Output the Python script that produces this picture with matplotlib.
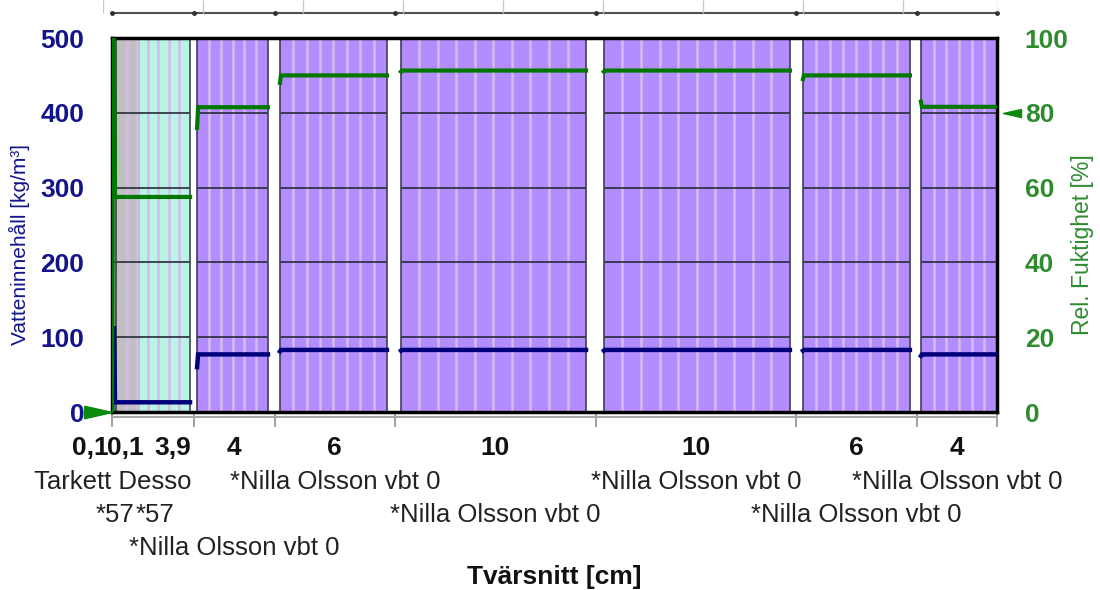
import numpy as np
import matplotlib
matplotlib.use("Agg")
import matplotlib.pyplot as plt
from matplotlib.path import Path

plt.rcParams['font.family'] = ['Liberation Sans', 'DejaVu Sans']

# layers of the cross section (cm)
thickness = [0.1, 0.1, 3.9, 4, 6, 10, 10, 6, 4]
thick_labels = ["0,1", "0,1", "3,9", "4", "6", "10", "10", "6", "4"]
layer_names = ["Tarkett Desso", "*57", "*57"] + ["*Nilla Olsson vbt 0"] * 6
name_rows = [0, 1, 1, 2, 0, 1, 0, 1, 0]

# water content [kg/m3]: value at left edge of layer and plateau value
water = [112, 13, 13, 77, 83, 83, 83, 83, 77]
water_edge = [0, 112, 13, 60, 81, 82, 82, 82, 75]
# relative humidity [%]
rh = [100, 57.5, 57.5, 81.5, 90, 91.3, 91.3, 90, 81.6]
rh_edge = [0, 100, 57.5, 76, 88, 91, 91, 89, 83]
bc_rh = [0, 80]   # boundary conditions left / right

# white joints between layers (boundary index, left/right edge in cm)
gap_at = [3, 4, 5, 6, 7, 8]
gap_lo = [3.89, 7.77, 13.70, 23.62, 33.78, 39.76]
gap_hi = [4.24, 8.37, 14.40, 24.51, 34.43, 40.31]

layer_colors = ['#1f7a1f', '#c0c0c0', '#b8f3e3'] + ['#b38cff'] * 6
mesh_count = [0, 0, 6, 5, 7, 9, 9, 7, 5]
# label x positions of the three thin layers were pushed apart to fit
thin_label_x = [-1.1, 0.65, 3.05]

navy = '#14148a'
green = '#2e8b2e'

total = sum(thickness)
bounds = np.concatenate([[0], np.cumsum(thickness)])
centers = (bounds[:-1] + bounds[1:]) / 2
lo = bounds[:-1].copy()
hi = bounds[1:].copy()
for b, g0, g1 in zip(gap_at, gap_lo, gap_hi):
    hi[b - 1] = g0
    lo[b] = g1

fig = plt.figure(figsize=(11, 5.9), dpi=100)
ax = fig.add_axes([112 / 1100, 178 / 590, 885 / 1100, 374 / 590])
ax.set_xlim(0, total)
ax.set_ylim(0, 500)

for i in range(len(thickness)):
    ax.axvspan(lo[i], hi[i], color=layer_colors[i], lw=0, zorder=0)
    if i == 2:
        ax.axvspan(lo[i], 1.4, color='#c0c0c0', lw=0, zorder=0)
    if mesh_count[i]:
        xs = np.linspace(lo[i], hi[i], mesh_count[i] + 2)[1:-1]
        ax.vlines(xs, 0, 500, color='#d6bbea', lw=1.8, zorder=1)
    ax.hlines([100, 200, 300, 400], lo[i], hi[i], color='#2a2a3a', lw=1.2, zorder=2)
ax.vlines(np.r_[lo[2:], hi[2:]], 0, 500, color='#404050', lw=1.2, zorder=2)


def profile(plateau, edge):
    xs, ys = [], []
    for i in range(len(thickness)):
        xs += [lo[i], lo[i] + 0.05, hi[i]]
        ys += [edge[i], plateau[i], plateau[i]]
        if i + 1 in gap_at:
            xs.append(np.nan)
            ys.append(np.nan)
    return xs, ys


wx, wy = profile(water, water_edge)
ax.plot(wx, wy, color='#00007a', lw=3.2, zorder=4, solid_joinstyle='miter')

for s in ax.spines.values():
    s.set_linewidth(2.5)
    s.set_color('black')

ax.set_yticks([0, 100, 200, 300, 400, 500])
ax.tick_params(axis='y', length=0, pad=20, labelsize=19, labelcolor=navy)
for t in ax.get_yticklabels():
    t.set_fontweight('bold')

# bottom ruler with layer boundary ticks
ax.set_xticks(np.r_[bounds[0], bounds[3:]])
ax.set_xticklabels([])
ax.tick_params(axis='x', direction='out', length=11, width=1.2, color='#909090')
ax.plot([0, total], [-0.013, -0.013], color='#a8a8a8', lw=1.5,
        transform=ax.get_xaxis_transform(), clip_on=False)

label_x = list(thin_label_x) + list(centers[3:])
for x, lab in zip(label_x, thick_labels):
    ax.text(x, -0.096, lab, transform=ax.get_xaxis_transform(), ha='center',
            va='center', fontsize=19, fontweight='bold', color='#111111')
for x, name, row in zip(centers, layer_names, name_rows):
    ax.text(x, -0.187 - 0.088 * row, name, transform=ax.get_xaxis_transform(),
            ha='center', va='center', fontsize=18.5, color='#222222')
ax.text(0.5, -0.441, "Tvärsnitt [cm]", transform=ax.transAxes, ha='center',
        va='center', fontsize=19, fontweight='bold', color='#111111')
ax.text(-0.105, 0.447, "Vatteninnehåll [kg/m³]", transform=ax.transAxes,
        rotation=90, ha='center', va='center', fontsize=15, color=navy)

# relative humidity on the right axis
ax2 = ax.twinx()
ax2.set_ylim(0, 100)
rx, ry = profile(rh, rh_edge)
ax2.plot(rx, ry, color='#007800', lw=3, zorder=5, solid_joinstyle='miter')
ax2.set_yticks([0, 20, 40, 60, 80, 100])
ax2.tick_params(axis='y', length=0, pad=20, labelsize=19, labelcolor=green)
for t in ax2.get_yticklabels():
    t.set_fontweight('bold')
for s in ax2.spines.values():
    s.set_visible(False)
ax2.text(1.097, 0.447, "Rel. Fuktighet [%]", transform=ax.transAxes,
         rotation=90, ha='center', va='center', fontsize=16.5, color=green)

tri_right = Path([(-1, 0.45), (1, 0), (-1, -0.45), (-1, 0.45)])
tri_left = Path([(1, 0.45), (-1, 0), (1, -0.45), (1, 0.45)])
ax2.plot([-0.7], [bc_rh[0]], marker=tri_right, ms=20, color='#0a8a0a',
         clip_on=False, zorder=6)
ax2.plot([44.85], [bc_rh[1]], marker=tri_left, ms=13, color='#0a8a0a',
         clip_on=False, zorder=6)

# bottom edge of the chart above (cut off)
ax_top = fig.add_axes([112 / 1100, 576 / 590, 885 / 1100, 14 / 590])
ax_top.set_xlim(0, total)
ax_top.set_ylim(0, 1)
ax_top.axis('off')
ax_top.plot([0, total], [0.07, 0.07], color='#505050', lw=1.5, clip_on=False)
ax_top.plot(np.r_[bounds[0], bounds[3:]], [0.07] * 8, ls='none', marker='o',
            ms=2.5, color='#303030', clip_on=False)
ax_grid = fig.add_axes([103 / 1100, 576 / 590, 895 / 1100, 14 / 590])
ax_grid.set_xlim(0, 8.95)
ax_grid.set_ylim(0, 1)
ax_grid.axis('off')
ax_grid.vlines(np.r_[np.arange(9), 8.95], 0.07, 1, color='#c8c8c8', lw=1)

fig.savefig('out.png', dpi=100)
